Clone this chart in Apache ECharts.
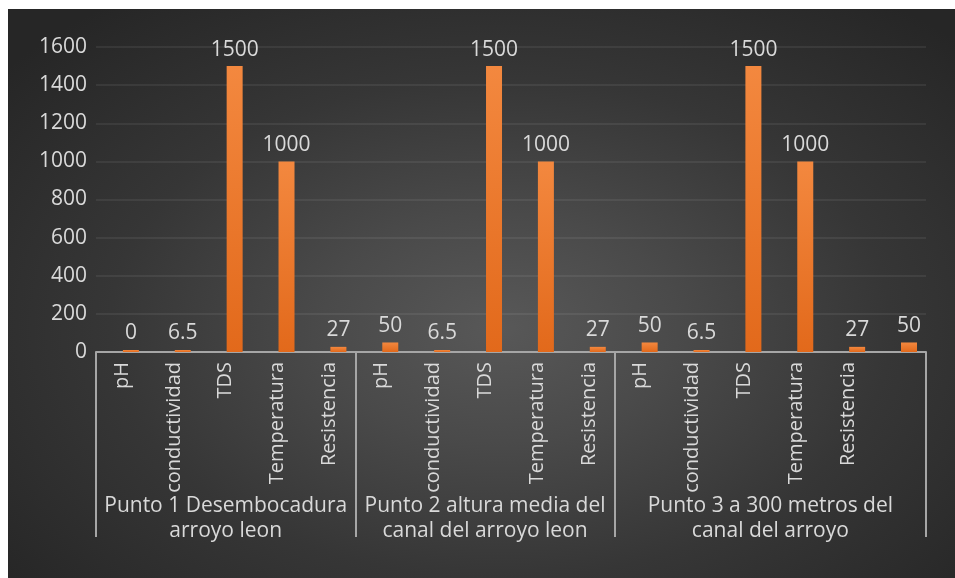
<!DOCTYPE html>
<html>
<head>
<meta charset="utf-8">
<script src="https://cdn.jsdelivr.net/npm/echarts@6/dist/echarts.min.js"></script>
<style>
html,body{margin:0;padding:0;background:#ffffff;}
#bg{position:absolute;left:8px;top:9px;width:947px;height:569px;
background:radial-gradient(ellipse 75% 80% at 52% 56%, #585858 0%, #4a4a4a 25%, #363636 55%, #262626 90%);}
#chart{position:absolute;left:0;top:0;width:955px;height:578px;}
</style>
</head>
<body>
<div id="bg"></div>
<div id="chart"></div>
<script>
var categories = ["pH","conductividad","TDS","Temperatura","Resistencia",
                  "pH","conductividad","TDS","Temperatura","Resistencia",
                  "pH","conductividad","TDS","Temperatura","Resistencia",""];
var values = [0, 6.5, 1500, 1000, 27,
              50, 6.5, 1500, 1000, 27,
              50, 6.5, 1500, 1000, 27, 50];
var groupNames = ["Punto 1 Desembocadura\narroyo leon",
                  "Punto 2 altura media del\ncanal del arroyo leon",
                  "Punto 3 a 300 metros del\ncanal del arroyo"];
var groupSizes = [5, 5, 6];
var yTicks = [0, 200, 400, 600, 800, 1000, 1200, 1400, 1600];

var bounds = [0], centers = [];
groupSizes.forEach(function(n, i){
  var start = bounds[bounds.length-1];
  centers.push(start + n/2);
  bounds.push(start + n);
});
var total = bounds[bounds.length-1];

var font = "Open Sans";
var txt = "#d9d9d9";
var fs = 21;
var chart = echarts.init(document.getElementById('chart'), null, {renderer:'canvas'});
chart.setOption({
  backgroundColor: 'transparent',
  animation: false,
  textStyle: {fontFamily: font},
  grid: {left: 96, right: 29, top: 47, bottom: 226, containLabel: false},
  xAxis: [{
    type: 'category',
    data: categories,
    axisLine: {lineStyle: {color: '#a6a6a6', width: 2}},
    axisTick: {show: false},
    axisLabel: {rotate: 90, interval: 0, color: txt, fontSize: 20, fontFamily: font, margin: 10}
  }, {
    type: 'value',
    min: 0, max: total,
    position: 'bottom',
    axisLine: {show: false},
    splitLine: {show: false},
    axisTick: {show: true, customValues: bounds, length: 185, lineStyle: {color: '#a6a6a6', width: 2}},
    axisLabel: {customValues: centers, color: txt, fontSize: fs, fontFamily: font, margin: 142, lineHeight: 25, align: 'center',
      formatter: function(v){ var i = centers.indexOf(v); return i >= 0 ? groupNames[i] : ''; }}
  }],
  yAxis: {
    type: 'value',
    min: yTicks[0], max: yTicks[yTicks.length-1], interval: yTicks[1]-yTicks[0],
    axisLine: {show: false},
    axisTick: {show: false},
    axisLabel: {color: txt, fontSize: fs, fontFamily: font, margin: 9, formatter: function(v){ return String(v); }},
    splitLine: {lineStyle: {color: 'rgba(255,255,255,0.09)', width: 1.5}}
  },
  series: [{
    type: 'bar',
    data: values.map(function(){ return '-'; }),
    barWidth: 16,
    barGap: '12%'
  }, {
    type: 'bar',
    data: values,
    barWidth: 16,
    barMinHeight: 2,
    itemStyle: {color: new echarts.graphic.LinearGradient(0,0,0,1,[
      {offset:0, color:'#f3883f'},{offset:1, color:'#e2691b'}])},
    label: {show: true, position: 'top', distance: 6, color: txt, fontSize: fs, fontFamily: font}
  }]
});
</script>
</body>
</html>
